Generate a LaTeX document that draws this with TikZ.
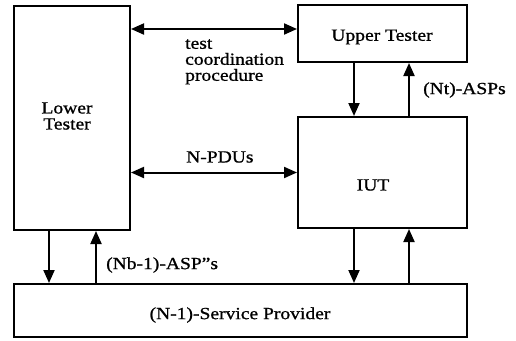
\documentclass[tikz,border=0pt]{standalone}
\usepackage{fontspec}
\setmainfont{Liberation Serif}[FakeStretch=1.15, FakeBold=1]
\usetikzlibrary{arrows.meta}
\tikzset{
  box/.style={draw, line width=2pt, inner sep=0pt},
  lbl/.style={font=\fontsize{17}{16}\selectfont, inner sep=0pt},
  conn/.style={line width=2pt, -{Triangle[length=13pt,width=11pt]}},
  biconn/.style={line width=2pt, {Triangle[length=13pt,width=11pt]}-{Triangle[length=13pt,width=11pt]}}
}
\begin{document}
\begin{tikzpicture}[x=1pt,y=-1pt]
\useasboundingbox (0,0) rectangle (516,340);
% boxes
\node[box, minimum width=116pt, minimum height=224pt] (LT) at (72,118) {};
\node[box, minimum width=169pt, minimum height=57pt] (UT) at (382.5,33.5) {};
\node[box, minimum width=169pt, minimum height=111pt] (IUT) at (382.5,172.5) {};
\node[box, minimum width=453pt, minimum height=53pt] (SP) at (240.5,310.5) {};
% box texts
\node[lbl, align=center] (LTt) at (67,116) {Lower\\Tester};
\node[lbl] (UTt) at (382,37) {Upper Tester};
\node[lbl] (IUTt) at (373,185) {IUT};
\node[lbl] (SPt) at (240,315) {(N-1)-Service Provider};
% connector coordinates
\coordinate (tc) at (0,29);
\coordinate (xa) at (354,0);
\coordinate (xb) at (409,0);
\coordinate (xc) at (49,0);
\coordinate (xd) at (96,0);
% test coordination procedure
\draw[biconn] (LT.east |- tc) -- (UT.west |- tc);
\node[lbl, align=left, anchor=north west] (tcp) at (185,39) {test\\coordination\\procedure};
% N-PDUs
\draw[biconn] (IUT.west -| LT.east) -- (IUT.west);
\node[lbl, anchor=west] (npdu) at (186,157) {N-PDUs};
% Upper Tester <-> IUT
\draw[conn] (UT.south -| xa) -- (IUT.north -| xa);
\draw[conn] (IUT.north -| xb) -- (UT.south -| xb);
\node[lbl, anchor=west] (nt) at (423,90) {(Nt)-ASPs};
% IUT <-> Service Provider
\draw[conn] (IUT.south -| xa) -- (SP.north -| xa);
\draw[conn] (SP.north -| xb) -- (IUT.south -| xb);
% Lower Tester <-> Service Provider
\draw[conn] (LT.south -| xc) -- (SP.north -| xc);
\draw[conn] (SP.north -| xd) -- (LT.south -| xd);
\node[lbl, anchor=west] (nb) at (106,265) {(Nb-1)-ASP\textquotedblright s};
\end{tikzpicture}
\end{document}
